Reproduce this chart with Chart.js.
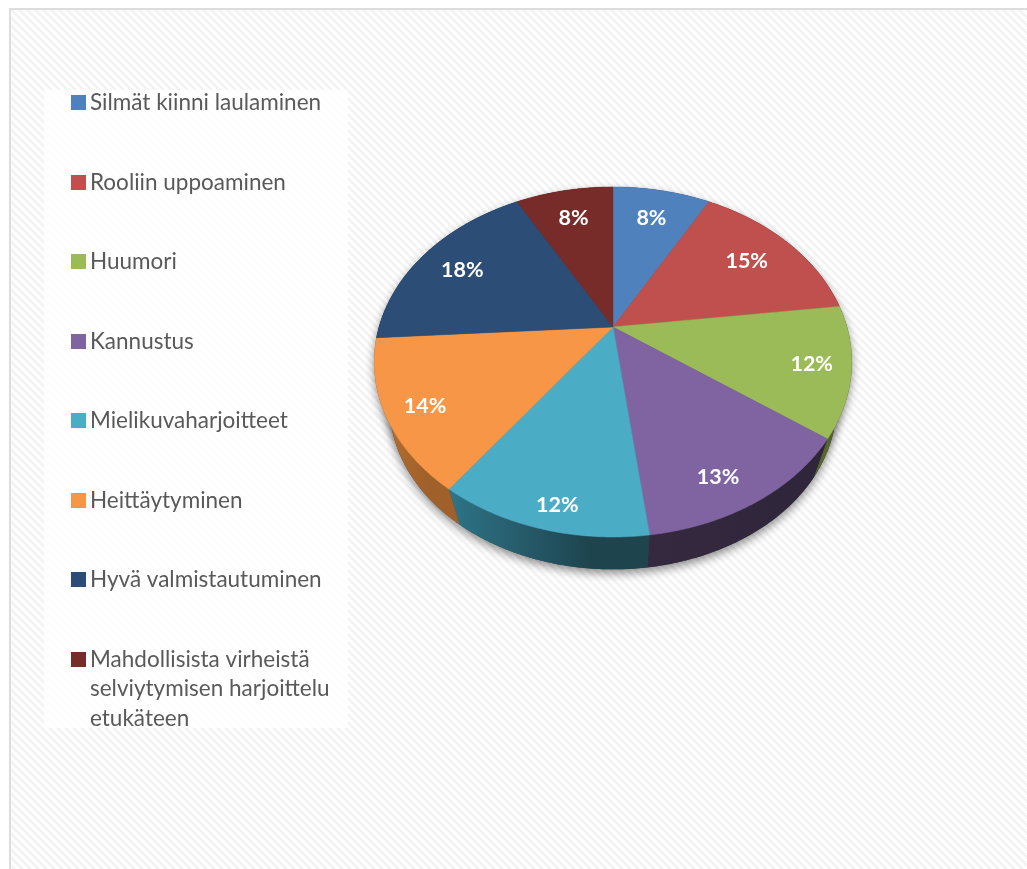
<!DOCTYPE html>
<html>
<head>
<meta charset="utf-8">
<title>Piirakka</title>
<style>
  html, body { margin: 0; padding: 0; background: #fff; }
  canvas { display: block; }
</style>
<script src="https://cdn.jsdelivr.net/npm/chart.js@4"></script>
</head>
<body>
<canvas id="myChart" width="1027" height="869"></canvas>
<script>
const categories = [
    'Silmät kiinni laulaminen',
    'Rooliin uppoaminen',
    'Huumori',
    'Kannustus',
    'Mielikuvaharjoitteet',
    'Heittäytyminen',
    'Hyvä valmistautuminen',
    ['Mahdollisista virheistä', 'selviytymisen harjoittelu', 'etukäteen']
];
const shares = [8, 15, 12, 13, 12, 14, 18, 8];

const sliceColors = ['#4f81bd', '#c0504d', '#9bbb59', '#8064a2', '#4bacc6', '#f79646', '#2c4d75', '#772c2a'];
const wallLeft = ['#2f4d71', '#73302e', '#55672f', '#35293f', '#2e7488', '#b8702f', '#1a2e46', '#471a19'];
const wallRight = ['#2f4d71', '#73302e', '#4a5a2a', '#30263b', '#1e444e', '#a0602a', '#1a2e46', '#471a19'];

// where each percentage sits: fraction of the radius, then a small nudge in px
const labelRadii = [0.78, 0.755, 0.84, 0.84, 0.88, 0.85, 0.78, 0.78];
const labelNudgeX = [-1, -1, 0, -12, 6, 2, -2, 0];
const labelNudgeY = [1, 0, 0, 8, 5, 4, 2, 1];

// tilt of the disc: flattening, perspective, and how the lower rim sits under the upper one
const SQUASH = 0.718;
const PERSPECTIVE = 0.2;
const RIM_SCALE = 0.935;
const RIM_DROP = 46;

let project = (arc, angle, r, lower) => {
    const ux = Math.cos(angle) * r;
    const uy = Math.sin(angle) * r;
    const d = 1 - PERSPECTIVE * uy;
    let px = arc.outerRadius * ux / d;
    let py = arc.outerRadius * SQUASH * uy / d;
    if (lower) {
        px *= RIM_SCALE;
        py = py * RIM_SCALE + RIM_DROP;
    }
    return { x: arc.x + px, y: arc.y + py };
};

let traceRim = (ctx, arc, from, to, lower) => {
    const steps = Math.max(Math.ceil(Math.abs(to - from) / 0.01), 1);
    for (let i = 0; i <= steps; i++) {
        const p = project(arc, from + (to - from) * i / steps, 1, lower);
        ctx.lineTo(p.x, p.y);
    }
};

// diagonal stripes of the page background
let stripes = (ctx) => {
    const tile = document.createElement('canvas');
    tile.width = 8;
    tile.height = 8;
    const t = tile.getContext('2d');
    t.fillStyle = '#ffffff';
    t.fillRect(0, 0, 8, 8);
    t.fillStyle = '#f4f4f4';
    for (let y = 0; y < 8; y++) {
        for (let x = 0; x < 8; x++) {
            if ((x - y + 8) % 8 < 4) t.fillRect(x, y, 1, 1);
        }
    }
    return ctx.createPattern(tile, 'repeat');
};

const backgroundPlugin = {
    id: 'background',
    beforeDraw(chart) {
        const ctx = chart.ctx;
        ctx.save();
        ctx.fillStyle = '#ffffff';
        ctx.fillRect(0, 0, chart.width, chart.height);
        ctx.fillStyle = stripes(ctx);
        ctx.fillRect(11, 10, chart.width - 11, chart.height - 10);
        ctx.fillStyle = '#dedede';
        ctx.fillRect(9, 8, chart.width - 9, 2);
        ctx.fillRect(9, 8, 2, chart.height - 8);
        ctx.fillStyle = 'rgba(255, 255, 255, 0.78)';
        ctx.fillRect(44, 90, 304, 638);
        ctx.restore();
    }
};

// legend column: one entry every 79.5px, wrapped entries stay top aligned
const legendPlugin = {
    id: 'sideLegend',
    afterDraw(chart) {
        const ctx = chart.ctx;
        ctx.save();
        ctx.font = '22.5px Lato';
        ctx.textBaseline = 'alphabetic';
        chart.data.labels.forEach((label, i) => {
            const top = 95 + i * 79.5;
            ctx.fillStyle = sliceColors[i];
            ctx.fillRect(71, Math.round(top), 15, 15);
            ctx.fillStyle = '#595959';
            [].concat(label).forEach((line, n) => {
                ctx.fillText(line, 90, top + 15 + n * 29.5);
            });
        });
        ctx.restore();
    }
};

const discPlugin = {
    id: 'disc',
    beforeDatasetDraw(chart, args) {
        const ctx = chart.ctx;
        const arcs = args.meta.data;
        const first = arcs[0];

        // soft shadow under the whole disc
        ctx.save();
        ctx.shadowColor = 'rgba(0, 0, 0, 0.45)';
        ctx.shadowBlur = 10;
        ctx.shadowOffsetY = 4;
        ctx.fillStyle = '#444';
        ctx.beginPath();
        traceRim(ctx, first, 0, Math.PI * 2, true);
        ctx.closePath();
        ctx.fill();
        ctx.beginPath();
        traceRim(ctx, first, 0, Math.PI * 2, false);
        ctx.closePath();
        ctx.fill();
        ctx.restore();

        // side walls
        arcs.forEach((arc, i) => {
            const a = project(arc, arc.startAngle, 1, false);
            const b = project(arc, arc.endAngle, 1, false);
            const grad = ctx.createLinearGradient(Math.min(a.x, b.x), 0, Math.max(a.x, b.x), 0);
            grad.addColorStop(0, wallLeft[i]);
            grad.addColorStop(0.7, wallRight[i]);
            grad.addColorStop(1, wallRight[i]);
            ctx.fillStyle = grad;
            ctx.beginPath();
            traceRim(ctx, arc, arc.startAngle, arc.endAngle, false);
            traceRim(ctx, arc, arc.endAngle, arc.startAngle, true);
            ctx.closePath();
            ctx.fill();
        });

        // top face
        arcs.forEach((arc, i) => {
            ctx.fillStyle = sliceColors[i];
            ctx.strokeStyle = sliceColors[i];
            ctx.lineWidth = 0.5;
            ctx.beginPath();
            ctx.moveTo(arc.x, arc.y);
            traceRim(ctx, arc, arc.startAngle, arc.endAngle, false);
            ctx.closePath();
            ctx.fill();
            ctx.stroke();
        });
        return false;
    },
    afterDatasetsDraw(chart) {
        const ctx = chart.ctx;
        const arcs = chart.getDatasetMeta(0).data;
        ctx.save();
        ctx.font = 'bold 21.5px Lato';
        ctx.fillStyle = '#ffffff';
        ctx.textAlign = 'center';
        ctx.textBaseline = 'middle';
        arcs.forEach((arc, i) => {
            const mid = (arc.startAngle + arc.endAngle) / 2;
            const p = project(arc, mid, labelRadii[i], false);
            ctx.fillText(shares[i] + '%', p.x + labelNudgeX[i], p.y + labelNudgeY[i]);
        });
        ctx.restore();
    }
};

const ctx = document.getElementById('myChart');

const chart = new Chart(ctx, {
    type: 'pie',
    data: {
        labels: categories,
        datasets: [{
            data: shares,
            backgroundColor: sliceColors,
            borderWidth: 0
        }]
    },
    options: {
        responsive: false,
        animation: false,
        layout: { padding: { left: 379, right: 180, top: 93, bottom: 308 } },
        plugins: {
            legend: { display: false },
            tooltip: { enabled: false }
        }
    },
    plugins: [backgroundPlugin, discPlugin, legendPlugin]
});
</script>
</body>
</html>
